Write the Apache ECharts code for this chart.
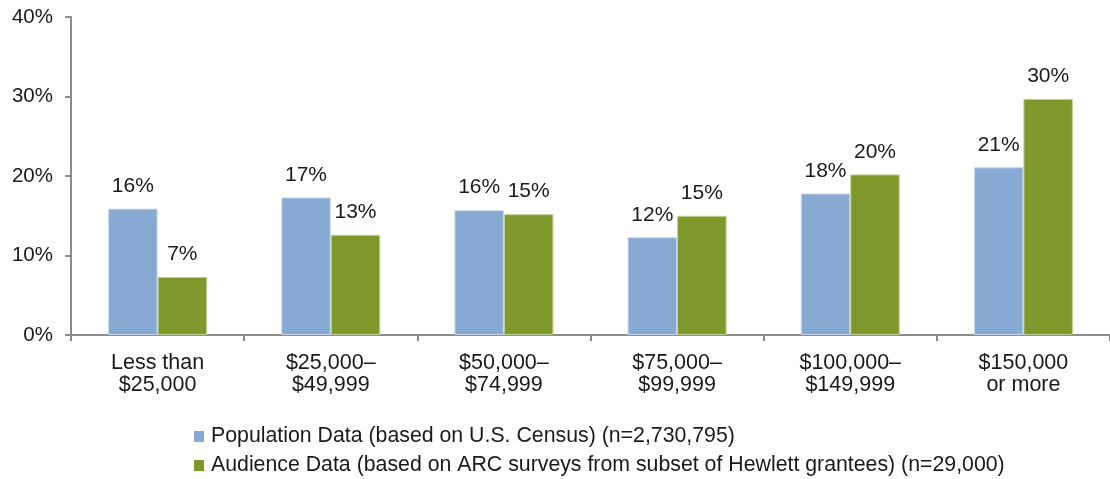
<!DOCTYPE html>
<html>
<head>
<meta charset="utf-8">
<script src="https://cdn.jsdelivr.net/npm/echarts@6/dist/echarts.min.js"></script>
<style>
html,body{margin:0;padding:0;background:#fff;}
#chart{width:1110px;height:479px;}
</style>
</head>
<body>
<div id="chart"></div>
<script>
const categories = ['Less than\n$25,000', '$25,000–\n$49,999', '$50,000–\n$74,999', '$75,000–\n$99,999', '$100,000–\n$149,999', '$150,000\nor more'];
const populationValues = [15.9, 17.3, 15.7, 12.3, 17.8, 21.1];
const audienceValues = [7.3, 12.6, 15.2, 15.0, 20.2, 29.7];
const seriesNames = ['Population Data (based on U.S. Census) (n=2,730,795)', 'Audience Data (based on ARC surveys from subset of Hewlett grantees) (n=29,000)'];

const font = 'Liberation Sans, Arial, sans-serif';
const axisColor = '#8c8c8c';
const chart = echarts.init(document.getElementById('chart'));
const labelCfg = {
  show: true, position: 'top', distance: 12,
  fontFamily: font, fontSize: 21, color: '#1a1a1a',
  formatter: p => Math.round(p.value) + '%'
};
chart.setOption({
  animation: false,
  grid: { left: 71, right: -4, top: 17, bottom: 144, containLabel: false },
  legend: {
    orient: 'vertical', left: 194, top: 426, height: 120, width: 900, itemGap: 8, padding: 0,
    itemWidth: 10, itemHeight: 11, icon: 'rect',
    itemStyle: { borderWidth: 0 },
    textStyle: { fontFamily: font, fontSize: 21.3, lineHeight: 21, color: '#1a1a1a', padding: [0,0,0,2] },
    data: seriesNames
  },
  xAxis: {
    type: 'category', data: categories,
    axisLine: { lineStyle: { color: axisColor, width: 2 } },
    axisTick: { show: true, length: 6, lineStyle: { color: axisColor, width: 2 } },
    axisLabel: { fontFamily: font, fontSize: 21.5, color: '#1a1a1a', lineHeight: 22, margin: 17, interval: 0 }
  },
  yAxis: {
    type: 'value', min: 0, max: 40, interval: 10,
    axisLine: { show: true, lineStyle: { color: axisColor, width: 2 } },
    axisTick: { show: true, length: 6, lineStyle: { color: axisColor, width: 2 } },
    splitLine: { show: false },
    axisLabel: { fontFamily: font, fontSize: 20.5, color: '#1a1a1a', margin: 18, formatter: v => v + '%' }
  },
  series: [
    { name: seriesNames[0], type: 'bar', data: populationValues, barWidth: 49.5, barGap: '0%',
      itemStyle: { color: '#86aad2', borderColor: '#c9d9ec', borderWidth: 1 }, label: labelCfg },
    { name: seriesNames[1], type: 'bar', data: audienceValues, barWidth: 49.5, barGap: '0%',
      itemStyle: { color: '#7f982b', borderColor: '#c3cf98', borderWidth: 1 }, label: labelCfg }
  ]
});
</script>
</body>
</html>
